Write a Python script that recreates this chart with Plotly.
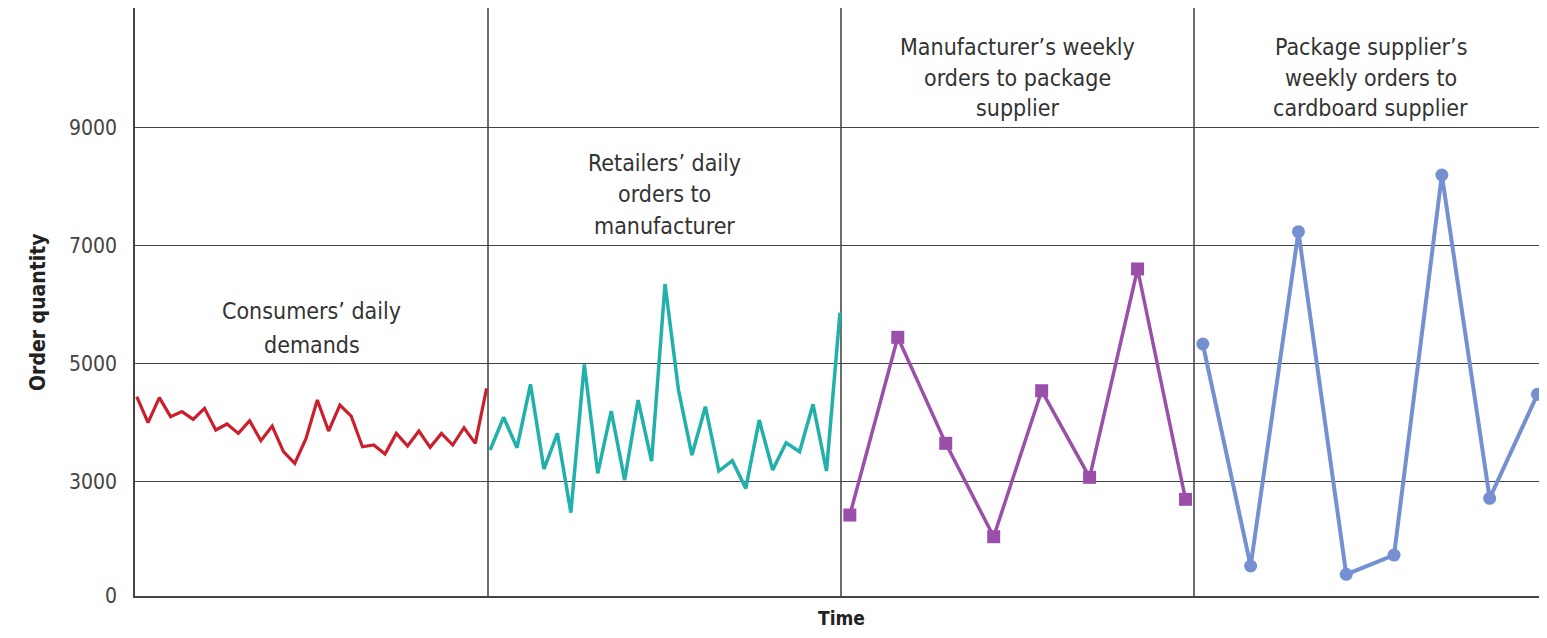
import numpy as np
import plotly.graph_objects as go

# ---- data ----
consumer_daily = [4437, 3997, 4421, 4099, 4184, 4054, 4240, 3873, 3975, 3816,
                  4031, 3692, 3941, 3506, 3308, 3732, 4381, 3856, 4297, 4110,
                  3590, 3619, 3466, 3816, 3602, 3856, 3579, 3816, 3619, 3912,
                  3647, 4579]
retailer_daily = [3534, 4088, 3573, 4647, 3212, 3816, 2472, 4986, 3138, 4195,
                  3025, 4381, 3347, 6347, 4551, 3449, 4268, 3178, 3353, 2884,
                  4042, 3195, 3658, 3506, 4308, 3178, 5862]
manufacturer_weekly = [2432, 5444, 3647, 2065, 4539, 3071, 6602, 2698]
package_weekly = [5331, 1568, 7234, 1427, 1754, 8195, 2715, 4478]

panel_labels = [
    ["Consumers\u2019 daily", "demands"],
    ["Retailers\u2019 daily", "orders to", "manufacturer"],
    ["Manufacturer\u2019s weekly", "orders to package", "supplier"],
    ["Package supplier\u2019s", "weekly orders to", "cardboard supplier"],
]
y_tick_values = [1060, 3000, 5000, 7000, 9000]
y_tick_labels = ["0", "3000", "5000", "7000", "9000"]

# ---- styling ----
FONT = "Liberation Sans Narrow, DejaVu Sans Condensed, Roboto, sans-serif"
TXT = "#333333"

# page body has an 8px margin; figure is sized so the page does not overflow
PAGE_OFF = 8
W, H = 1539, 622
ML, MR, MT, MB = 127, 0, 0, 34
Y_RANGE = [1060, 11025]
plot_w = W - ML - MR
plot_h = H - MT - MB


def page_y_to_paper(ypx):
    return 1 - (ypx - PAGE_OFF - MT) / plot_h


def page_x_to_paper(xpx):
    return (xpx - PAGE_OFF - ML) / plot_w


def xs(panel, n, start, end):
    return list(panel + np.linspace(start, end, n))


fig = go.Figure()
fig.add_trace(go.Scatter(x=xs(0, len(consumer_daily), 0.005, 0.996), y=consumer_daily,
                         mode="lines", line=dict(color="#cc1f2d", width=3.2),
                         showlegend=False))
fig.add_trace(go.Scatter(x=xs(1, len(retailer_daily), 0.006, 0.997), y=retailer_daily,
                         mode="lines", line=dict(color="#21b1aa", width=3.5),
                         showlegend=False))
fig.add_trace(go.Scatter(x=xs(2, len(manufacturer_weekly), 0.025, 0.976), y=manufacturer_weekly,
                         mode="lines+markers", line=dict(color="#9a50aa", width=3.5),
                         marker=dict(symbol="square", size=13, color="#9a50aa"),
                         showlegend=False))
fig.add_trace(go.Scatter(x=xs(3, len(package_weekly), 0.025, 0.973), y=package_weekly,
                         mode="lines+markers", line=dict(color="#7490d0", width=4),
                         marker=dict(symbol="circle", size=13, color="#7490d0"),
                         showlegend=False, cliponaxis=False))

# panel dividers
for p in (1, 2, 3):
    fig.add_shape(type="line", xref="x", yref="paper", x0=p, x1=p, y0=0, y1=1,
                  line=dict(color="#6e6e6e", width=2), layer="below")

# panel label lines: page pixel y of each line's centre
label_line_px = [
    [311, 345],
    [163, 194, 226],
    [47, 78, 108],
    [47, 78, 108],
]
for p, (lines, ys) in enumerate(zip(panel_labels, label_line_px)):
    for txt, ypx in zip(lines, ys):
        fig.add_annotation(x=p + 0.5, xref="x", y=page_y_to_paper(ypx), yref="paper",
                           text=txt, showarrow=False, xanchor="center", yanchor="middle",
                           font=dict(family=FONT, size=23, color=TXT))

# axis titles
fig.add_annotation(x=page_x_to_paper(38), xref="paper", y=page_y_to_paper(312), yref="paper",
                   text="<b>Order quantity</b>", textangle=-90, showarrow=False,
                   xanchor="center", yanchor="middle",
                   font=dict(family=FONT, size=21, color="#222222"))
fig.add_annotation(x=2, xref="x", y=-MB / plot_h, yref="paper",
                   text="<b>Time</b>", showarrow=False, xanchor="center", yanchor="bottom",
                   borderpad=0,
                   font=dict(family=FONT, size=19, color="#222222"))

fig.update_layout(
    width=W, height=H,
    margin=dict(l=ML, r=MR, t=MT, b=MB),
    paper_bgcolor="white", plot_bgcolor="white",
    font=dict(family=FONT, color=TXT),
    xaxis=dict(range=[0, 4], showgrid=False, zeroline=False, showticklabels=False,
               ticks="", showline=True, linecolor="#444444", linewidth=1.5),
    yaxis=dict(range=Y_RANGE, tickvals=y_tick_values, ticktext=y_tick_labels,
               showgrid=True, gridcolor="#444444", gridwidth=1.2, zeroline=False,
               showline=True, linecolor="#444444", linewidth=1.5, ticks="",
               ticklabelstandoff=12,
               tickfont=dict(family=FONT, size=21, color="#444444")),
)

fig.write_html("out.html")
